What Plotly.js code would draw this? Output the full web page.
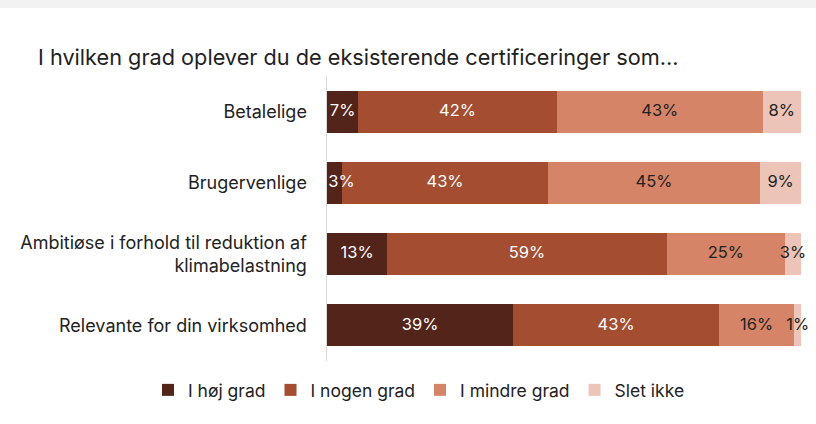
<!DOCTYPE html>
<html>
<head>
<meta charset="utf-8">
<script src="https://cdn.plot.ly/plotly-3.0.1.min.js"></script>
<style>
html,body{margin:0;padding:0;background:#fff;}
#chart{width:816px;height:424px;}
</style>
</head>
<body>
<div id="chart"></div>
<script>
const categories = ["Betalelige", "Brugervenlige", "Ambitiøse i forhold til reduktion af<br>klimabelastning", "Relevante for din virksomhed"];
const seriesNames = ["I høj grad", "I nogen grad", "I mindre grad", "Slet ikke"];
const hoejGrad   = [6.6, 3.2, 12.7, 39.3];
const nogenGrad  = [41.9, 43.4, 59.0, 43.4];
const mindreGrad = [43.4, 44.8, 24.9, 15.9];
const sletIkke   = [8.1, 8.6, 3.4, 1.4];

const seriesValues = [hoejGrad, nogenGrad, mindreGrad, sletIkke];
const colors = ["#52241a", "#a44d30", "#d68467", "#ecc5b8"];
const textColors = ["#ffffff", "#ffffff", "#222222", "#222222"];
const FONT = "Inter, 'DejaVu Sans', sans-serif";

// stacked bars
const barTraces = seriesValues.map((vals, i) => ({
  type: "bar",
  orientation: "h",
  name: seriesNames[i],
  y: categories,
  x: vals,
  marker: {color: colors[i], line: {width: 0}},
  hoverinfo: "skip"
}));

// value labels, drawn on top of all bars, centred on each segment
const labelTraces = seriesValues.map((vals, i) => {
  const centers = vals.map((v, k) => {
    let base = 0;
    for (let j = 0; j < i; j++) base += seriesValues[j][k];
    return base + v / 2;
  });
  const texts = vals.map(v => {
    const t = Math.round(v) + "%";
    return (i === 0 && v < 4) ? "\u00a0\u00a0\u00a0" + t : t;
  });
  return {
    type: "scatter",
    mode: "text",
    showlegend: false,
    y: categories,
    x: centers,
    text: texts,
    textposition: "middle center",
    textfont: {family: FONT, size: 16.5, color: textColors[i]},
    cliponaxis: false,
    hoverinfo: "skip"
  };
});

const W = 816, H = 424;
const mL = 327, mR = 15, mT = 76, mB = 63;
const pw = W - mL - mR, ph = H - mT - mB;

const layout = {
  width: W, height: H,
  margin: {l: mL, r: mR, t: mT, b: mB, pad: 0},
  paper_bgcolor: "#ffffff",
  plot_bgcolor: "#ffffff",
  barmode: "stack",
  bargap: 0.41,
  font: {family: FONT, size: 16, color: "#222222"},
  title: {
    text: "I hvilken grad oplever du de eksisterende certificeringer som...",
    font: {family: FONT, size: 21.7, color: "#222222"},
    xref: "container", yref: "container",
    x: 38 / W, xanchor: "left",
    y: 1 - 57 / H, yanchor: "middle"
  },
  xaxis: {
    range: [0, 100], visible: false, fixedrange: true
  },
  yaxis: {
    autorange: "reversed",
    showline: true, linecolor: "#d9d9d9", linewidth: 1.5,
    showgrid: false, zeroline: false,
    ticks: "outside", ticklen: 15, tickcolor: "rgba(0,0,0,0)",
    tickfont: {family: FONT, size: 18, color: "#222222"}
  },
  showlegend: true,
  legend: {
    orientation: "h",
    xref: "paper", yref: "paper",
    x: (148 - mL) / pw, xanchor: "left",
    y: (mT + ph - 390) / ph, yanchor: "middle",
    font: {family: FONT, size: 17.5, color: "#222222"},
    itemwidth: 30,
    traceorder: "normal"
  },
  shapes: [{
    type: "rect", xref: "paper", yref: "paper",
    x0: -mL / pw, x1: 1 + mR / pw,
    y0: 1 + (mT - 8) / ph, y1: 1 + mT / ph,
    fillcolor: "#f2f2f2", line: {width: 0}, layer: "below"
  }]
};

Plotly.newPlot("chart", barTraces.concat(labelTraces), layout, {displayModeBar: false, staticPlot: true});
</script>
</body>
</html>
